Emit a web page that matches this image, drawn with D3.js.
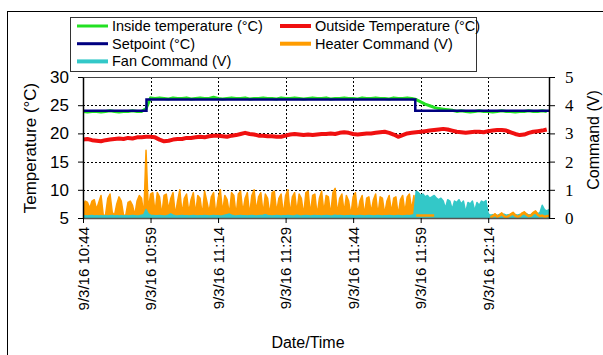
<!DOCTYPE html>
<html>
<head>
<meta charset="utf-8">
<script src="https://cdn.jsdelivr.net/npm/d3@7"></script>
<style>
    body { margin: 0; background: #fff; }
    svg { display: block; font-family: "Liberation Sans", Arial, sans-serif; }
</style>
</head>
<body>
<svg id="chart" width="603" height="355"></svg>
<script>
// time base: 9/3/16 10:44, samples as minute offsets
const startTime = new Date(2016, 8, 3, 10, 44)
const endMinute = 103.5
const xTickMinutes = [0, 15, 30, 45, 60, 75, 90]
const tempTicks = [5, 10, 15, 20, 25, 30]
const cmdTicks = [0, 1, 2, 3, 4, 5]

// setpoint is a step series
const setpointMin = [0, 14.1, 73.8, 103.5]
const setpointVal = [24, 26, 24, 24]

// temperatures, one sample per minute
const insideTemp = [
    23.9, 23.8, 23.9, 23.9, 23.8, 23.9, 24.0, 23.9, 23.8, 23.9,
    23.9, 24.0, 23.9, 23.9, 24.4, 26.3, 26.2, 26.3, 26.2, 26.1,
    26.3, 26.2, 26.2, 26.3, 26.1, 26.2, 26.3, 26.2, 26.2, 26.4,
    26.2, 26.1, 26.2, 26.3, 26.2, 26.2, 26.3, 26.1, 26.2, 26.2,
    26.3, 26.2, 26.2, 26.1, 26.3, 26.2, 26.2, 26.3, 26.2, 26.1,
    26.2, 26.3, 26.2, 26.2, 26.3, 26.1, 26.2, 26.2, 26.3, 26.2,
    26.2, 26.1, 26.3, 26.2, 26.2, 26.3, 26.2, 26.2, 26.1, 26.3,
    26.2, 26.2, 26.3, 26.2, 26.0, 25.6, 25.2, 24.9, 24.6, 24.4,
    24.3, 24.2, 24.1, 23.9, 24.0, 23.9, 23.8, 23.9, 24.0, 23.9,
    23.9, 23.8, 23.9, 24.0, 23.9, 23.9, 23.8, 23.9, 23.9, 24.0,
    23.9, 23.9, 24.0, 23.9
]
const outsideTemp = [
    18.9, 19.0, 18.8, 18.7, 18.6, 18.8, 18.9, 19.0, 19.1, 19.0,
    19.2, 19.1, 19.3, 19.3, 19.4, 19.4, 19.3, 18.9, 18.6, 18.7,
    18.9, 19.0, 19.0, 19.2, 19.2, 19.3, 19.4, 19.3, 19.5, 19.6,
    19.6, 19.5, 19.4, 19.6, 19.7, 19.9, 20.1, 19.9, 19.8, 19.6,
    19.6, 19.5, 19.5, 19.4, 19.4, 19.6, 19.8, 19.9, 19.8, 19.7,
    19.8, 19.7, 19.8, 19.9, 19.9, 20.0, 19.9, 20.1, 20.2, 20.1,
    19.9, 19.8, 19.9, 20.0, 20.0, 20.1, 20.2, 20.3, 20.1, 19.8,
    19.4, 19.7, 20.0, 20.1, 20.2, 20.3, 20.4, 20.5, 20.6, 20.7,
    20.8, 20.7, 20.5, 20.3, 20.2, 20.1, 20.2, 20.3, 20.3, 20.2,
    20.4, 20.5, 20.6, 20.6, 20.5, 20.2, 19.9, 19.7, 19.8, 20.1,
    20.3, 20.4, 20.5, 20.7
]

// commands, one sample per 30 s
const heaterCmd = [
    0.45, 0.6, 0.55, 0.35, 0.6, 0.65, 0.3, 0.55, 0.8, 0.1,
    0.1, 0.7, 0.85, 0.2, 0.1, 0.5, 0.75, 0.6, 0.1, 0.1,
    0.55, 0.6, 0.45, 0.1, 0.6, 0.8, 0.7, 0.1, 2.4, 0.3,
    0.85, 0.9, 0.2, 0.9, 0.75, 0.1, 0.8, 0.85, 0.3, 0.7,
    0.9, 0.1, 0.6, 1.0, 0.15, 0.7, 0.85, 0.2, 0.65, 0.9,
    0.15, 0.8, 0.7, 0.1, 0.95, 0.6, 0.2, 0.75, 0.9, 0.1,
    0.7, 1.0, 0.2, 0.8, 0.65, 0.15, 0.9, 0.8, 0.1, 0.85,
    0.95, 0.2, 0.7, 0.9, 0.1, 0.8, 1.0, 0.25, 0.75, 0.9,
    0.15, 0.85, 0.7, 0.1, 0.9, 0.95, 0.2, 0.7, 0.85, 0.1,
    0.8, 1.0, 0.15, 0.75, 0.9, 0.2, 0.85, 0.7, 0.1, 0.9,
    0.95, 0.15, 0.8, 0.85, 0.1, 0.7, 0.95, 0.2, 0.8, 0.75,
    0.1, 0.9, 1.05, 0.15, 0.7, 0.85, 0.2, 0.8, 0.6, 0.1,
    0.75, 0.9, 0.15, 0.6, 0.8, 0.1, 0.7, 0.75, 0.2, 0.65,
    0.85, 0.1, 0.75, 0.7, 0.15, 0.6, 0.8, 0.2, 0.7, 0.75,
    0.1, 0.65, 0.8, 0.2, 0.75, 0.85, 0.3, 0.8,
    0.12, 0.12, 0.12, 0.12, 0.12, 0.12, 0.12, 0.12, 0.12, 0,
    0, 0, 0, 0, 0, 0, 0, 0, 0, 0,
    0, 0, 0, 0, 0, 0, 0, 0, 0, 0,
    0, 0, 0, 0.05, 0.1, 0.15, 0.08, 0.12, 0.18, 0.1,
    0.05, 0.1, 0.15, 0.2, 0.12, 0.08, 0.1, 0.18, 0.22, 0.15,
    0.1, 0.12, 0.2, 0.25, 0.15, 0.1, 0.12, 0.08, 0.1, 0.12
]
const fanCmd = [
    0.07, 0.08, 0.07, 0.08, 0.09, 0.07, 0.08, 0.07, 0.08, 0.07,
    0.08, 0.07, 0.08, 0.09, 0.07, 0.08, 0.07, 0.08, 0.07, 0.08,
    0.07, 0.08, 0.09, 0.08, 0.07, 0.08, 0.1, 0.12, 0.3, 0.15,
    0.1, 0.09, 0.08, 0.08, 0.09, 0.08, 0.07, 0.08, 0.1, 0.15,
    0.1, 0.08, 0.07, 0.08, 0.09, 0.08, 0.08, 0.07, 0.08, 0.09,
    0.08, 0.07, 0.08, 0.08, 0.09, 0.08, 0.07, 0.08, 0.09, 0.08,
    0.08, 0.07, 0.08, 0.1, 0.12, 0.14, 0.1, 0.08, 0.07, 0.08,
    0.09, 0.08, 0.08, 0.07, 0.08, 0.09, 0.08, 0.07, 0.08, 0.09,
    0.1, 0.12, 0.09, 0.08, 0.07, 0.08, 0.09, 0.08, 0.07, 0.08,
    0.08, 0.09, 0.08, 0.07, 0.08, 0.1, 0.08, 0.07, 0.08, 0.09,
    0.08, 0.07, 0.08, 0.09, 0.08, 0.08, 0.07, 0.08, 0.09, 0.08,
    0.07, 0.08, 0.1, 0.08, 0.09, 0.08, 0.07, 0.08, 0.08, 0.09,
    0.08, 0.07, 0.08, 0.09, 0.08, 0.07, 0.08, 0.09, 0.08, 0.07,
    0.08, 0.09, 0.08, 0.07, 0.08, 0.08, 0.09, 0.08, 0.07, 0.08,
    0.09, 0.08, 0.07, 0.08, 0.09, 0.08, 0.1, 0.12,
    0.95, 0.9, 0.8, 0.85, 0.75, 0.8, 0.7, 0.75, 0.8, 0.7,
    0.65, 0.7, 0.6, 0.35, 0.65, 0.6, 0.3, 0.6, 0.55, 0.65,
    0.5, 0.6, 0.2, 0.55, 0.5, 0.6, 0.25, 0.55, 0.45, 0.6,
    0.55, 0.62, 0.15,
    0.1, 0.12, 0.1, 0.08, 0.12, 0.1, 0.14, 0.1, 0.12, 0.1,
    0.15, 0.12, 0.1, 0.13, 0.1, 0.12, 0.15, 0.1, 0.12, 0.14,
    0.1, 0.15, 0.2, 0.45, 0.3, 0.25, 0.3
]

const colors = {
    inside: '#22e022',
    outside: '#f01010',
    setpoint: '#000080',
    heater: '#ff9c00',
    fan: '#33c8c8'
}

const legendItems = [
    { label: 'Inside temperature (°C)', color: colors.inside, w: 3 },
    { label: 'Outside Temperature (°C)', color: colors.outside, w: 4 },
    { label: 'Setpoint (°C)', color: colors.setpoint, w: 3 },
    { label: 'Heater Command (V)', color: colors.heater, w: 4 },
    { label: 'Fan Command (V)', color: colors.fan, w: 4 }
]

const atMinute = m => new Date(startTime.getTime() + m * 60000)
const perMinute = arr => arr.map((v, i) => ({ t: atMinute(i), v }))
const perHalf = arr => arr.map((v, i) => ({ t: atMinute(i / 2), v }))

const plot = { left: 83, right: 549, top: 77, bottom: 218 }

const x = d3.scaleTime().domain([startTime, atMinute(endMinute)]).range([plot.left, plot.right])
const yT = d3.scaleLinear().domain([5, 30]).range([plot.bottom, plot.top])
const yV = d3.scaleLinear().domain([0, 5]).range([plot.bottom, plot.top])

const svg = d3.select('#chart')

// outer frame
svg.append('rect')
    .attr('x', 7.5).attr('y', 11.5).attr('width', 620).attr('height', 400)
    .attr('fill', 'none').attr('stroke', '#000').attr('stroke-width', 1)

// grid
const grid = svg.append('g').attr('stroke', '#000').attr('stroke-width', 1).attr('stroke-dasharray', '2,2')
grid.selectAll('line.h')
    .data(tempTicks.slice(1, -1))
    .join('line')
    .attr('x1', plot.left).attr('x2', plot.right)
    .attr('y1', d => Math.round(yT(d)) + 0.5).attr('y2', d => Math.round(yT(d)) + 0.5)
grid.selectAll('line.v')
    .data(xTickMinutes.slice(1))
    .join('line')
    .attr('class', 'v')
    .attr('y1', plot.top).attr('y2', plot.bottom)
    .attr('x1', d => Math.round(x(atMinute(d))) + 0.5).attr('x2', d => Math.round(x(atMinute(d))) + 0.5)

svg.append('clipPath').attr('id', 'clip')
    .append('rect').attr('x', plot.left).attr('y', plot.top - 2)
    .attr('width', plot.right - plot.left).attr('height', plot.bottom - plot.top + 2)

const scene = svg.append('g').attr('clip-path', 'url(#clip)')

const areaV = d3.area().x(d => x(d.t)).y0(yV(0)).y1(d => yV(d.v))

// heater and fan commands
scene.append('path')
    .datum(perHalf(heaterCmd))
    .attr('fill', colors.heater).attr('stroke', colors.heater).attr('stroke-width', 1.5)
    .attr('stroke-linejoin', 'round')
    .attr('d', areaV)

scene.append('path')
    .datum(perHalf(fanCmd))
    .attr('fill', colors.fan).attr('stroke', colors.fan).attr('stroke-width', 1.5)
    .attr('stroke-linejoin', 'round')
    .attr('d', areaV)

// heater stays visible under the fan after the setpoint drop
scene.append('path')
    .datum(perHalf(heaterCmd))
    .attr('fill', 'none').attr('stroke', colors.heater).attr('stroke-width', 2.5)
    .attr('d', d3.line()
        .defined(d => d.t >= atMinute(setpointMin[2]) && d.v > 0.02)
        .x(d => x(d.t)).y(d => yV(d.v) + 1))

const lineT = d3.line().x(d => x(d.t)).y(d => yT(d.v))

scene.append('path')
    .datum(perMinute(outsideTemp))
    .attr('fill', 'none').attr('stroke', colors.outside).attr('stroke-width', 4)
    .attr('stroke-linejoin', 'round')
    .attr('d', lineT)

scene.append('path')
    .datum(perMinute(insideTemp))
    .attr('fill', 'none').attr('stroke', colors.inside).attr('stroke-width', 3)
    .attr('stroke-linejoin', 'round')
    .attr('d', lineT)

scene.append('path')
    .datum(setpointMin.map((m, i) => ({ t: atMinute(m), v: setpointVal[i] })))
    .attr('fill', 'none').attr('stroke', colors.setpoint).attr('stroke-width', 2.5)
    .attr('d', d3.line().curve(d3.curveStepAfter).x(d => x(d.t)).y(d => yT(d.v)))

// top edge of plot area
svg.append('line')
    .attr('x1', plot.left).attr('x2', plot.right).attr('y1', plot.top + 0.5).attr('y2', plot.top + 0.5)
    .attr('stroke', '#444')

// axes
const fmt = d3.timeFormat('%-m/%-d/%y %H:%M')
const xAxis = svg.append('g')
    .attr('transform', `translate(0,${plot.bottom})`)
    .call(d3.axisBottom(x).tickValues(xTickMinutes.map(atMinute)).tickFormat(fmt).tickSize(5).tickSizeOuter(0))
xAxis.select('.domain').attr('stroke', '#555').attr('stroke-width', 1.5)
xAxis.selectAll('text')
    .attr('font-size', 15).attr('font-family', '"Liberation Sans", Arial, sans-serif').attr('fill', '#000')
    .attr('transform', 'rotate(-90)')
    .attr('text-anchor', 'end')
    .attr('x', -9).attr('y', 0).attr('dy', '0.35em')

const yLeft = svg.append('g')
    .attr('transform', `translate(${plot.left},0)`)
    .call(d3.axisLeft(yT).tickValues(tempTicks).tickSize(5).tickSizeOuter(0))
yLeft.select('.domain').attr('stroke-width', 1.5)
yLeft.selectAll('text')
    .attr('font-size', 17).attr('font-family', '"Liberation Sans", Arial, sans-serif').attr('fill', '#000')
    .attr('x', -14)

const yRight = svg.append('g')
    .attr('transform', `translate(${plot.right},0)`)
    .call(d3.axisRight(yV).tickValues(cmdTicks).tickFormat(d3.format('d')).tickSize(6).tickSizeOuter(0))
yRight.select('.domain').attr('stroke-width', 1.5)
yRight.selectAll('text')
    .attr('font-size', 17).attr('font-family', '"Liberation Serif", "Times New Roman", serif').attr('fill', '#000')
    .attr('x', 16)

// axis titles
svg.append('text')
    .attr('transform', 'translate(36,148) rotate(-90)')
    .attr('text-anchor', 'middle').attr('font-size', 17)
    .text('Temperature (°C)')
svg.append('text')
    .attr('transform', 'translate(599,140) rotate(-90)')
    .attr('text-anchor', 'middle').attr('font-size', 16)
    .text('Command (V)')
svg.append('text')
    .attr('x', 308).attr('y', 348)
    .attr('text-anchor', 'middle').attr('font-size', 16)
    .text('Date/Time')

// legend
const legend = svg.append('g')
legend.append('rect')
    .attr('x', 70.5).attr('y', 17.5).attr('width', 406).attr('height', 54)
    .attr('fill', '#fff').attr('stroke', '#333')
const item = legend.selectAll('g')
    .data(legendItems)
    .join('g')
    .attr('transform', (d, i) => `translate(${i % 2 ? 280 : 77},${26 + Math.floor(i / 2) * 17.7})`)
item.append('line')
    .attr('x1', 0).attr('x2', 31).attr('stroke', d => d.color).attr('stroke-width', d => d.w)
item.append('text')
    .attr('x', 35).attr('dy', '0.35em').attr('font-size', 14.5)
    .text(d => d.label)
</script>
</body>
</html>
